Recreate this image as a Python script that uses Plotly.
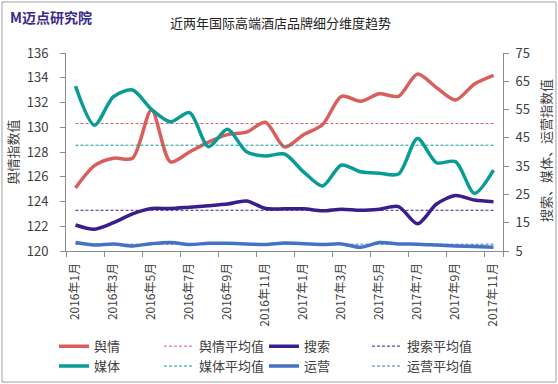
import plotly.graph_objects as go

months = ["2016年1月", "2016年2月", "2016年3月", "2016年4月", "2016年5月", "2016年6月",
          "2016年7月", "2016年8月", "2016年9月", "2016年10月", "2016年11月", "2016年12月",
          "2017年1月", "2017年2月", "2017年3月", "2017年4月", "2017年5月", "2017年6月",
          "2017年7月", "2017年8月", "2017年9月", "2017年10月", "2017年11月"]
tick_labels = months[::2]

yuqing = [125.1, 126.9, 127.5, 127.5, 131.4, 127.2, 128.0, 128.8, 129.4, 129.6, 130.4, 128.4,
          129.4, 130.2, 132.5, 132.1, 132.7, 132.5, 134.3, 133.2, 132.2, 133.5, 134.2]
meiti = [63.3, 49.5, 59.6, 61.9, 55.1, 50.7, 53.9, 41.9, 48.0, 40.1, 38.6, 39.3,
         33.0, 28.0, 35.4, 33.0, 32.5, 32.2, 44.8, 36.2, 36.6, 25.4, 33.6]
sousuo = [14.2, 12.7, 15.0, 18.1, 20.0, 20.0, 20.5, 21.0, 21.6, 22.7, 20.0, 19.9,
          19.9, 19.2, 19.8, 19.4, 19.8, 20.7, 14.6, 21.6, 24.6, 23.0, 22.4]
yunying = [8.0, 7.1, 7.5, 6.8, 7.6, 8.0, 7.3, 7.7, 7.7, 7.5, 7.3, 7.8,
           7.6, 7.3, 7.5, 6.3, 8.0, 7.5, 7.4, 7.1, 6.8, 6.6, 6.3]

avg_yuqing = 130.3
avg_meiti = 42.4
avg_sousuo = 19.4
avg_yunying = 7.4

RED = "#D95F5C"
TEAL = "#089C97"
PURPLE = "#3A1E8C"
BLUE = "#4672C6"
TXT = "#404040"
FONT = "Noto Sans CJK SC"

fig = go.Figure()

def main(y, name, color, axis, leg):
    fig.add_trace(go.Scatter(x=months, y=y, name=name, mode="lines", yaxis=axis, legend=leg,
                             line=dict(color=color, width=3.5, shape="spline", smoothing=0.8)))

def avg(v, name, color, axis, leg):
    fig.add_trace(go.Scatter(x=[months[0], months[-1]], y=[v, v], name=name, mode="lines",
                             yaxis=axis, legend=leg,
                             line=dict(color=color, width=1, dash="3px,2px")))

main(yuqing, "舆情", RED, "y", "legend")
main(meiti, "媒体", TEAL, "y2", "legend")
avg(avg_yuqing, "舆情平均值", RED, "y", "legend2")
avg(avg_meiti, "媒体平均值", TEAL, "y2", "legend2")
main(sousuo, "搜索", PURPLE, "y2", "legend3")
main(yunying, "运营", BLUE, "y2", "legend3")
avg(avg_sousuo, "搜索平均值", PURPLE, "y2", "legend4")
avg(avg_yunying, "运营平均值", BLUE, "y2", "legend4")


def leg(px):
    return dict(orientation="v", x=(px - 66) / 437, y=-0.405, xanchor="left", yanchor="top",
                itemwidth=30, bgcolor="rgba(0,0,0,0)", tracegroupgap=0, traceorder="normal",
                font=dict(size=13, color=TXT, family=FONT))


axcol = "#8C8C8C"
fig.update_layout(
    width=558, height=384,
    margin=dict(l=66, r=55, t=53, b=133, autoexpand=False),
    paper_bgcolor="white", plot_bgcolor="white",
    font=dict(family=FONT, size=13, color=TXT),
    showlegend=True,
    legend=leg(54), legend2=leg(159), legend3=leg(264), legend4=leg(367),
    xaxis=dict(type="category", tickmode="array", tickvals=tick_labels, ticktext=tick_labels,
               tickangle=-90, tickson="boundaries", ticks="outside", ticklen=5, tickcolor=axcol,
               showline=True, linecolor=axcol, linewidth=1, showgrid=False, ticklabelstandoff=6,
               range=[-0.5, 22.5], tickfont=dict(size=12, color=TXT)),
    yaxis=dict(range=[120, 136], dtick=2, tick0=120, ticks="outside", ticklen=5, tickcolor=axcol,
               showline=True, linecolor=axcol, linewidth=1, showgrid=False, zeroline=False,
               ticklabelstandoff=9,
               title=dict(text="舆情指数值", font=dict(size=13, color=TXT), standoff=5),
               tickfont=dict(size=13, color=TXT)),
    yaxis2=dict(range=[5, 75], dtick=10, tick0=5, overlaying="y", side="right", ticks="outside",
                ticklen=5, tickcolor=axcol, showline=True, linecolor=axcol, linewidth=1,
                showgrid=False, zeroline=False, ticklabelstandoff=4,
                tickfont=dict(size=13, color=TXT)),
    annotations=[
        dict(text="近两年国际高端酒店品牌细分维度趋势", xref="paper", yref="paper",
             x=(280 - 66) / 437, y=(251 - 22) / 198, xanchor="center", yanchor="middle",
             showarrow=False, font=dict(size=13, color="#222222")),
        dict(text="<b>M迈点研究院</b>", xref="paper", yref="paper",
             x=(8 - 66) / 437, y=(251 - 17) / 198, xanchor="left", yanchor="middle",
             showarrow=False, font=dict(size=14, color="#3B2A8C")),
        dict(text="搜索、媒体、运营指数值", xref="paper", yref="paper", textangle=-90,
             x=(545 - 66) / 437, y=(251 - 151) / 198, xanchor="center", yanchor="middle",
             showarrow=False, font=dict(size=13, color=TXT)),
    ],
    shapes=[dict(type="rect", xref="paper", yref="paper",
                 x0=(2 - 66) / 437, x1=(556 - 66) / 437, y0=(251 - 382) / 198, y1=(251 - 2) / 198,
                 line=dict(color="#A0A0A0", width=1), layer="below")],
)

fig.write_html("out.html", config={"displayModeBar": False},
               post_script="document.body.style.margin='0';document.body.style.overflow='hidden';")
